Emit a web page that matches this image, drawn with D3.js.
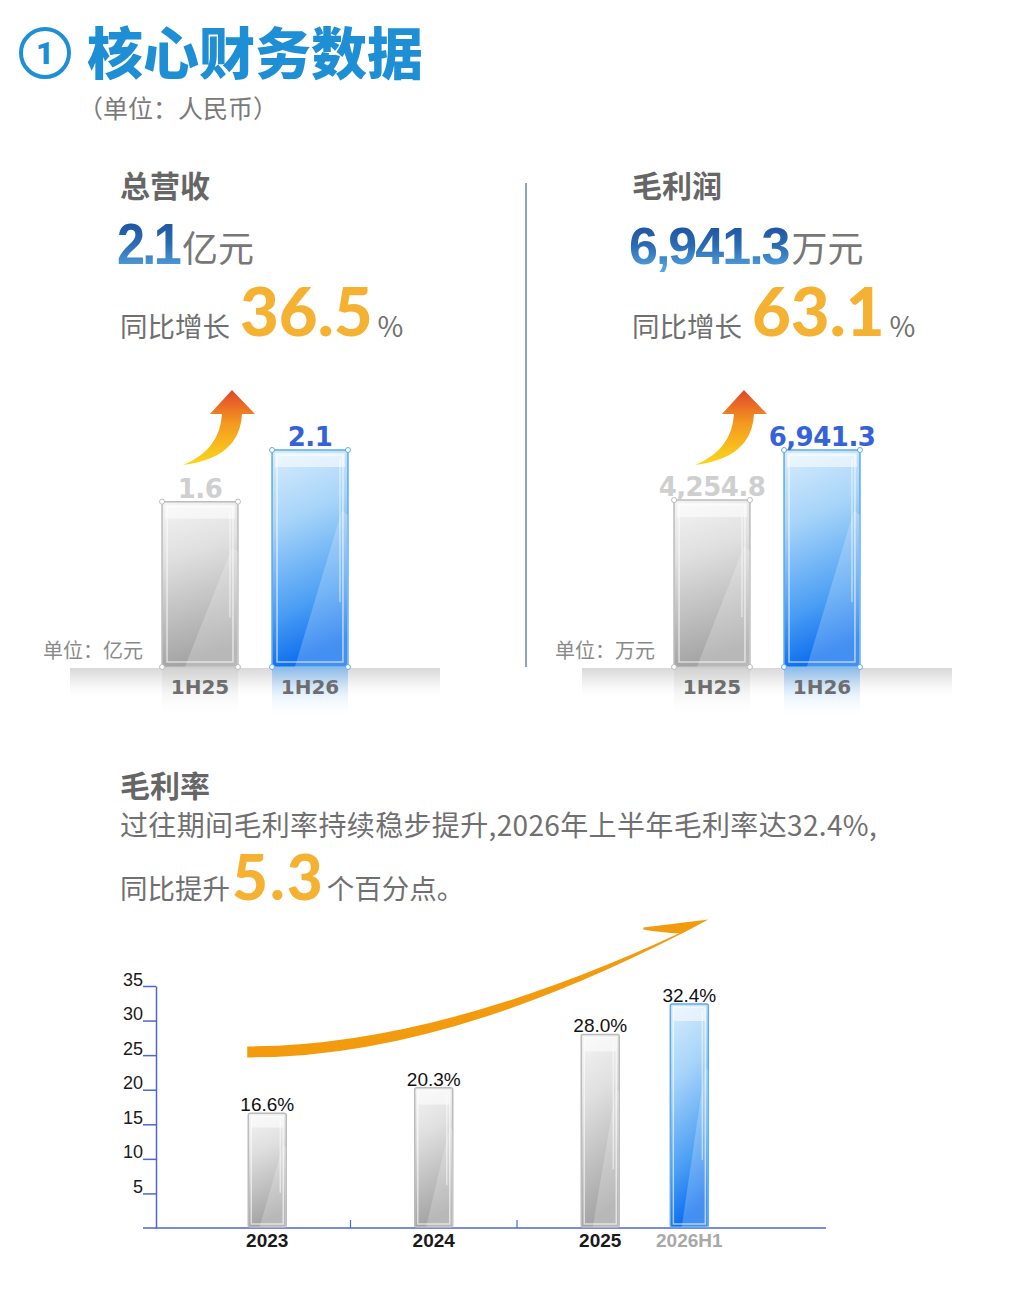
<!DOCTYPE html>
<html>
<head>
<meta charset="utf-8">
<script src="https://cdn.jsdelivr.net/npm/d3@7"></script>
<style>
  body { margin: 0; background: #fff; }
  svg { display: block; }
</style>
</head>
<body>
<div id="chart"></div>
<script>
// 数据
const revCats = ['1H25', '1H26'];
const revValues = [1.6, 2.1];
const revLabels = ['1.6', '2.1'];
const gpCats = ['1H25', '1H26'];
const gpValues = [4254.8, 6941.3];
const gpLabels = ['4,254.8', '6,941.3'];
const rateCats = ['2023', '2024', '2025', '2026H1'];
const rateValues = [16.6, 20.3, 28.0, 32.4];
const rateLabels = ['16.6%', '20.3%', '28.0%', '32.4%'];
const rateTicks = [5, 10, 15, 20, 25, 30, 35];

const CJK = '"Noto Sans CJK SC", "Noto Sans", sans-serif';
const ORANGE = '#f5b131';
const GRAY_TXT = '#707070';

const W = 1016, H = 1290;
const svg = d3.select('#chart').append('svg')
  .attr('width', W).attr('height', H);
const defs = svg.append('defs');

// 渐变
function linGrad(id, stops, x2 = 0, y2 = 1) {
  const g = defs.append('linearGradient').attr('id', id)
    .attr('x1', 0).attr('y1', 0).attr('x2', x2).attr('y2', y2);
  stops.forEach(s => g.append('stop')
    .attr('offset', s[0]).attr('stop-color', s[1])
    .attr('stop-opacity', s[2] == null ? 1 : s[2]));
}
linGrad('grayBody', [[0, '#f4f4f4'], [0.35, '#e0e0e0'], [1, '#a4a4a4']], 0.15, 1);
linGrad('blueBody', [[0, '#d8edfc'], [0.35, '#a6d4f9'], [0.75, '#4c9ff4'], [1, '#1070ef']], 0.15, 1);
linGrad('grayRefl', [[0, '#cfcfcf', 0.7], [1, '#ffffff', 0]]);
linGrad('blueRefl', [[0, '#4ea4f5', 0.55], [1, '#ffffff', 0]]);
linGrad('floor', [[0, '#d9d9d9'], [0.4, '#eeeeee'], [1, '#ffffff', 0]]);
linGrad('numBlue', [[0, '#1a4a97'], [0.5, '#2b6cb5'], [1, '#5fb0e6']]);
linGrad('upArrow', [[0, '#e0452a'], [0.45, '#f39a1f'], [1, '#f9d81a']]);

// 玻璃质感柱子
function glassBar(g, x, y, w, h, kind) {
  const blue = kind === 'blue';
  const edge = blue ? '#5fa9ee' : '#bcbcbc';
  g.append('rect')
    .attr('x', x).attr('y', y).attr('width', w).attr('height', h)
    .attr('rx', 2)
    .attr('fill', blue ? 'url(#blueBody)' : 'url(#grayBody)')
    .attr('stroke', edge).attr('stroke-width', 1.5);
  // 斜向高光
  g.append('path')
    .attr('d', `M${x + w * 0.92},${y + h * 0.28} L${x + w},${y + h * 0.3} L${x + w},${y + h} L${x + w * 0.3},${y + h} Z`)
    .attr('fill', '#fff').attr('opacity', 0.22);
  // 顶部高光
  g.append('rect')
    .attr('x', x + 3).attr('y', y + 3).attr('width', w - 6).attr('height', Math.min(14, h * 0.1))
    .attr('fill', '#fff').attr('opacity', 0.55);
  // 内边框
  const ins = w > 50 ? 5 : 3;
  g.append('rect')
    .attr('x', x + ins).attr('y', y + ins).attr('width', w - ins * 2).attr('height', h - ins * 2)
    .attr('fill', 'none').attr('stroke', '#fff').attr('stroke-opacity', 0.6).attr('stroke-width', 1.5);
  // 右侧竖向亮线
  g.append('line')
    .attr('x1', x + w - ins - 3).attr('x2', x + w - ins - 3)
    .attr('y1', y + ins + 4).attr('y2', y + h * 0.7)
    .attr('stroke', '#fff').attr('stroke-opacity', 0.5).attr('stroke-width', 1.5);
  // 角点
  if (w > 50) {
    [[x, y], [x + w, y], [x, y + h], [x + w, y + h]].forEach(p => {
      g.append('circle').attr('cx', p[0]).attr('cy', p[1]).attr('r', 2.5)
        .attr('fill', '#fff').attr('stroke', edge).attr('stroke-width', 1);
    });
  }
}

// 标题
svg.append('circle')
  .attr('cx', 45).attr('cy', 53).attr('r', 24)
  .attr('fill', 'none').attr('stroke', '#1e8fd5').attr('stroke-width', 4);
svg.append('text')
  .attr('x', 45).attr('y', 64).attr('text-anchor', 'middle')
  .attr('font-family', 'Roboto, sans-serif').attr('font-weight', 900)
  .attr('font-size', 31).attr('fill', '#1e8fd5').text('1');
svg.append('text')
  .attr('x', 87).attr('y', 74)
  .attr('font-family', CJK).attr('font-weight', 900)
  .attr('font-size', 56).attr('fill', '#1e8fd5').text('核心财务数据');
svg.append('text')
  .attr('x', 78).attr('y', 118)
  .attr('font-family', CJK).attr('font-size', 25).attr('fill', '#7a7a7a')
  .text('（单位：人民币）');

// 分隔线
svg.append('line')
  .attr('x1', 526).attr('x2', 526).attr('y1', 183).attr('y2', 667)
  .attr('stroke', '#8ea2c2').attr('stroke-width', 2);

// 顶部两个面板
function drawPanel(opt) {
  const dx = opt.dx;
  const g = svg.append('g');

  g.append('text')
    .attr('x', 120 + dx).attr('y', 197)
    .attr('font-family', CJK).attr('font-weight', 700)
    .attr('font-size', 30).attr('fill', '#666').text(opt.title);

  const big = g.append('text')
    .attr('x', 117 + dx).attr('y', 264)
    .attr('font-family', '"Liberation Sans", Arial, sans-serif').attr('font-weight', 700)
    .attr('font-size', opt.bigSize).attr('letter-spacing', opt.bigSpacing)
    .attr('fill', 'url(#numBlue)')
    .text(opt.big);
  if (opt.bigWidth) {
    big.attr('textLength', opt.bigWidth).attr('lengthAdjust', 'spacingAndGlyphs');
  }
  const bigEnd = 117 + dx + (opt.bigWidth || big.node().getComputedTextLength());
  g.append('text')
    .attr('x', bigEnd + 3).attr('y', 262)
    .attr('font-family', CJK).attr('font-size', 36).attr('fill', '#777')
    .text(opt.unit);

  const yoy = g.append('text')
    .attr('x', 120 + dx).attr('y', 337)
    .attr('font-family', CJK).attr('font-size', 27.5).attr('fill', GRAY_TXT)
    .text('同比增长');
  const yoyEnd = 120 + dx + yoy.node().getComputedTextLength();
  const gr = g.append('text')
    .attr('x', yoyEnd + 10).attr('y', 336)
    .attr('font-family', 'Lato, "Liberation Sans", sans-serif').attr('font-weight', 900)
    .attr('font-size', 67).attr('fill', ORANGE).text(opt.growth);
  const grEnd = yoyEnd + 10 + gr.node().getComputedTextLength();
  g.append('text')
    .attr('x', grEnd + 5).attr('y', 337)
    .attr('font-family', CJK).attr('font-size', 28).attr('fill', GRAY_TXT)
    .text('%');

  // 柱图
  const x = d3.scaleBand()
    .domain(opt.cats)
    .range([145 + dx, 365 + dx])
    .paddingInner(0.31).paddingOuter(0.155);
  const y = d3.scaleLinear().domain(opt.domain).range([667, 450]);
  const base = y.range()[0];

  // 地面
  g.append('rect')
    .attr('x', x.range()[0] - 75).attr('y', base + 1)
    .attr('width', x.range()[1] - x.range()[0] + 150).attr('height', 32)
    .attr('fill', 'url(#floor)');

  // 倒影
  opt.values.forEach((v, i) => {
    g.append('rect')
      .attr('x', x(opt.cats[i])).attr('y', base + 1)
      .attr('width', x.bandwidth()).attr('height', 52)
      .attr('fill', i === 1 ? 'url(#blueRefl)' : 'url(#grayRefl)');
  });

  opt.values.forEach((v, i) => {
    glassBar(g, x(opt.cats[i]), y(v), x.bandwidth(), base - y(v), i === 1 ? 'blue' : 'gray');
    g.append('text')
      .attr('x', x(opt.cats[i]) + x.bandwidth() / 2).attr('y', y(v) - 4)
      .attr('text-anchor', 'middle')
      .attr('font-family', '"DejaVu Sans", sans-serif').attr('font-weight', 700)
      .attr('font-size', 26).attr('letter-spacing', -0.5)
      .attr('fill', i === 1 ? '#3562d9' : '#cfcfcf')
      .text(opt.labels[i]);
    g.append('text')
      .attr('x', x(opt.cats[i]) + x.bandwidth() / 2).attr('y', 694)
      .attr('text-anchor', 'middle')
      .attr('font-family', '"DejaVu Sans", sans-serif').attr('font-weight', 700)
      .attr('font-size', 20).attr('fill', '#6e6e6e')
      .text(opt.cats[i]);
  });

  g.append('text')
    .attr('x', x.range()[0] - 102).attr('y', 658)
    .attr('font-family', CJK).attr('font-size', 20).attr('fill', '#8a8a8a')
    .text(opt.unitLabel);

  // 上升箭头
  const tx = x(opt.cats[0]) + x.bandwidth() - 6, ty = 390;
  g.append('path')
    .attr('d', `M${tx},${ty} L${tx + 23},${ty + 24} L${tx + 10},${ty + 24}
      Q${tx + 8},${ty + 68} ${tx - 49},${ty + 75}
      Q${tx - 12},${ty + 60} ${tx - 10},${ty + 24}
      L${tx - 22},${ty + 24} Z`)
    .attr('fill', 'url(#upArrow)');
}

drawPanel({
  dx: 0, title: '总营收', big: '2.1', bigSize: 57, bigSpacing: -3, bigWidth: 62,
  unit: '亿元', growth: '36.5',
  cats: revCats, values: revValues, labels: revLabels,
  domain: [0, d3.max(revValues)], unitLabel: '单位：亿元'
});
// 原图两组柱高一致，这里按原图比例设定纵轴起点
drawPanel({
  dx: 512, title: '毛利润', big: '6,941.3', bigSize: 52, bigSpacing: -2, unit: '万元', growth: '63.1',
  cats: gpCats, values: gpValues, labels: gpLabels,
  domain: [-4718, d3.max(gpValues)], unitLabel: '单位：万元'
});

// 毛利率 文字
svg.append('text')
  .attr('x', 120).attr('y', 797)
  .attr('font-family', CJK).attr('font-weight', 700)
  .attr('font-size', 30).attr('fill', '#666').text('毛利率');
svg.append('text')
  .attr('x', 120).attr('y', 836)
  .attr('font-family', CJK).attr('font-size', 28).attr('letter-spacing', 0.35).attr('fill', GRAY_TXT)
  .text('过往期间毛利率持续稳步提升,2026年上半年毛利率达32.4%,');
const l3 = svg.append('text')
  .attr('x', 120).attr('y', 899)
  .attr('font-family', CJK).attr('font-size', 27.5).attr('fill', GRAY_TXT)
  .text('同比提升');
const l3End = 120 + l3.node().getComputedTextLength();
const pp = svg.append('text')
  .attr('x', l3End + 2).attr('y', 900)
  .attr('font-family', 'Lato, "Liberation Sans", sans-serif').attr('font-weight', 900)
  .attr('font-size', 62).attr('letter-spacing', 2).attr('fill', ORANGE)
  .text('5.3');
svg.append('text')
  .attr('x', l3End + 2 + pp.node().getComputedTextLength() + 2).attr('y', 899)
  .attr('font-family', CJK).attr('font-size', 27.5).attr('fill', GRAY_TXT)
  .text('个百分点。');

// 毛利率柱图
const AXIS = '#4d66d2';
const xR = d3.scaleBand().domain(rateCats.slice(0, 3)).range([184, 683.5]);
const yR = d3.scaleLinear().domain([0, 35]).range([1228, 986]);
// 2026H1 在原图中紧挨 2025
const rateX = c => c === '2026H1'
  ? xR('2025') + xR.bandwidth() / 2 + xR.step() * 0.535
  : xR(c) + xR.bandwidth() / 2;
const barW = 38;

const gr = svg.append('g');

// 橙色弧形箭头
const sx = rateX('2023') - barW / 2 - 1, ex = rateX('2026H1') + barW / 2;
const sy = yR(25.4), ey = yR(44.6);
gr.append('path')
  .attr('d', `M${sx},${sy - 6} Q${sx + 199},${sy - 6} ${ex},${ey}
    Q${sx + 203},${sy + 6} ${sx},${sy + 5} Z`)
  .attr('fill', '#f29b0f');
gr.append('path')
  .attr('d', `M${ex - 65},${ey + 8} L${ex},${ey} L${ex - 27},${ey + 14} Q${ex - 48},${ey + 13} ${ex - 65},${ey + 10} Z`)
  .attr('fill', '#f29b0f');

// 坐标轴
const yAxis = gr.append('g')
  .attr('transform', 'translate(156,0)')
  .call(d3.axisLeft(yR).tickValues(rateTicks).tickSize(13).tickSizeOuter(0));
yAxis.select('.domain').attr('stroke', AXIS).attr('stroke-width', 1.5);
yAxis.selectAll('.tick line').attr('stroke', AXIS).attr('stroke-width', 1.5);
yAxis.selectAll('.tick text')
  .attr('x', -13).attr('dy', '-0.05em')
  .attr('font-family', '"Liberation Sans", Arial, sans-serif')
  .attr('font-size', 18).attr('fill', '#1a1a1a');

gr.append('line')
  .attr('x1', 143).attr('x2', 826).attr('y1', yR(0)).attr('y2', yR(0))
  .attr('stroke', AXIS).attr('stroke-width', 1.5);
['2024', '2025'].forEach(c => {
  gr.append('line')
    .attr('x1', xR(c)).attr('x2', xR(c)).attr('y1', yR(0)).attr('y2', yR(0) - 8)
    .attr('stroke', AXIS).attr('stroke-width', 1.2);
});

rateCats.forEach((c, i) => {
  const cx = rateX(c);
  const half = c === '2026H1';
  glassBar(gr, cx - barW / 2, yR(rateValues[i]), barW, yR(0) - yR(rateValues[i]) - 1, half ? 'blue' : 'gray');
  gr.append('text')
    .attr('x', cx).attr('y', yR(rateValues[i]) - 2)
    .attr('text-anchor', 'middle')
    .attr('font-family', '"Liberation Sans", Arial, sans-serif')
    .attr('font-size', 19).attr('fill', '#111')
    .text(rateLabels[i]);
  gr.append('text')
    .attr('x', cx).attr('y', 1247)
    .attr('text-anchor', 'middle')
    .attr('font-family', '"Liberation Sans Narrow", "Liberation Sans", sans-serif')
    .attr('font-weight', 700).attr('font-size', 19)
    .attr('fill', half ? '#a8a8a8' : '#1a1a1a')
    .text(c);
});
</script>
</body>
</html>
